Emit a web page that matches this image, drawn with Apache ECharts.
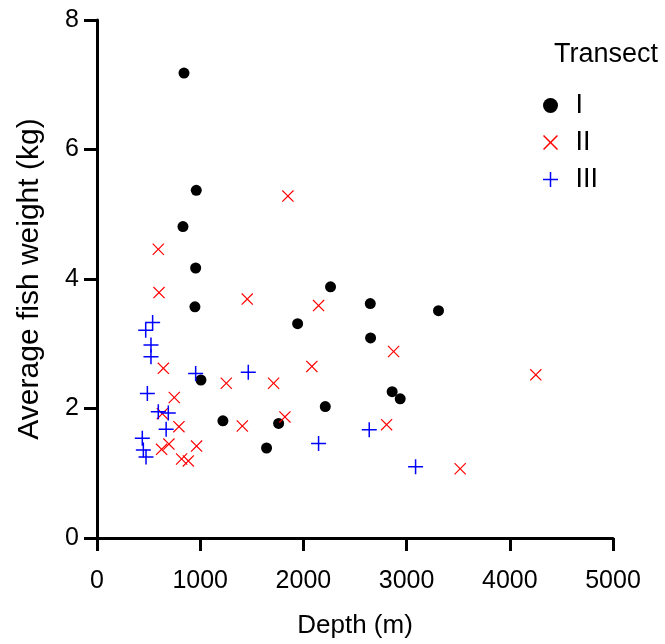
<!DOCTYPE html>
<html>
<head>
<meta charset="utf-8">
<script src="https://cdn.jsdelivr.net/npm/echarts@6/dist/echarts.min.js"></script>
<style>
  html, body { margin: 0; padding: 0; background: #fff; }
  #main { width: 665px; height: 644px; }
</style>
</head>
<body>
<div id="main"></div>
<script>
// depth (m), average weight (kg)
var transectI = [
  [843, 7.18], [962, 5.37], [833, 4.81], [956, 4.17], [2263, 3.88], [949, 3.57],
  [2648, 3.62], [1944, 3.31], [2651, 3.09], [3309, 3.51], [1007, 2.44], [2860, 2.26],
  [2938, 2.15], [2212, 2.03], [1220, 1.81], [1760, 1.77], [1643, 1.39]
];
var transectII = [
  [1850, 5.28], [594, 4.46], [601, 3.79], [1456, 3.69], [2147, 3.59], [2874, 2.88],
  [643, 2.62], [2082, 2.65], [4252, 2.52], [1253, 2.39], [1711, 2.39], [749, 2.17],
  [633, 1.92], [1821, 1.87], [2806, 1.75], [1408, 1.73], [794, 1.72], [697, 1.45],
  [626, 1.37], [965, 1.42], [820, 1.22], [885, 1.19], [3519, 1.07]
];
var transectIII = [
  [539, 3.33], [472, 3.21], [523, 2.98], [523, 2.80], [956, 2.54], [1466, 2.56],
  [488, 2.23], [594, 1.95], [691, 1.93], [670, 1.68], [2638, 1.67], [2147, 1.46],
  [439, 1.54], [449, 1.36], [475, 1.25], [3087, 1.10]
];
var seriesNames = ['I', 'II', 'III'];

var crossPath = 'path://M0,0.7L0.7,0L5,4.3L9.3,0L10,0.7L5.7,5L10,9.3L9.3,10L5,5.7L0.7,10L0,9.3L4.3,5Z';
var plusPath = 'path://M0,4.5H4.5V0H5.5V4.5H10V5.5H5.5V10H4.5V5.5H0Z';

var chart = echarts.init(document.getElementById('main'));
var font = 'Liberation Sans, Arial, sans-serif';

function plain (v) { return String(v) }

var axisCommon = {
  axisLine: { lineStyle: { color: '#000', width: 3 } },
  axisTick: { length: 13, lineStyle: { color: '#000', width: 3 } },
  splitLine: { show: false }
};

chart.setOption({
  backgroundColor: '#fff',
  animation: false,
  title: {
    text: 'Transect',
    left: 549,
    top: 36,
    textStyle: { color: '#000', fontSize: 27, fontWeight: 'normal', fontFamily: font }
  },
  legend: {
    orient: 'vertical',
    left: 538,
    top: 87,
    itemGap: 10,
    itemWidth: 20,
    itemHeight: 15,
    textStyle: { color: '#000', fontSize: 27, lineHeight: 24, fontFamily: font, padding: [0, 0, 0, 10] },
    data: [
      { name: 'I', icon: 'circle' },
      { name: 'II', icon: crossPath },
      { name: 'III', icon: plusPath }
    ]
  },
  grid: { left: 97, right: 52, top: 20, bottom: 106 },
  xAxis: Object.assign({}, axisCommon, {
    type: 'value',
    min: 0,
    max: 5000,
    interval: 1000,
    name: 'Depth (m)',
    nameLocation: 'middle',
    nameGap: 75,
    nameTextStyle: { color: '#000', fontSize: 26, fontFamily: font },
    axisLabel: { color: '#000', fontSize: 25, fontFamily: font, margin: 31, formatter: plain }
  }),
  yAxis: Object.assign({}, axisCommon, {
    type: 'value',
    min: 0,
    max: 8,
    interval: 2,
    name: 'Average fish weight (kg)',
    nameLocation: 'middle',
    nameGap: 52,
    nameTextStyle: { color: '#000', fontSize: 30, fontFamily: font },
    axisLabel: { color: '#000', fontSize: 25, fontFamily: font, margin: 18, formatter: plain }
  }),
  series: [
    {
      name: seriesNames[0], type: 'scatter', data: transectI,
      symbol: 'circle', symbolSize: 11,
      itemStyle: { color: '#000', opacity: 1 }
    },
    {
      name: seriesNames[1], type: 'scatter', data: transectII,
      symbol: crossPath, symbolSize: 12,
      itemStyle: { color: '#ff0000', opacity: 1 }
    },
    {
      name: seriesNames[2], type: 'scatter', data: transectIII,
      symbol: plusPath, symbolSize: 15,
      itemStyle: { color: '#0000ff', opacity: 1 }
    }
  ]
});
</script>
</body>
</html>
